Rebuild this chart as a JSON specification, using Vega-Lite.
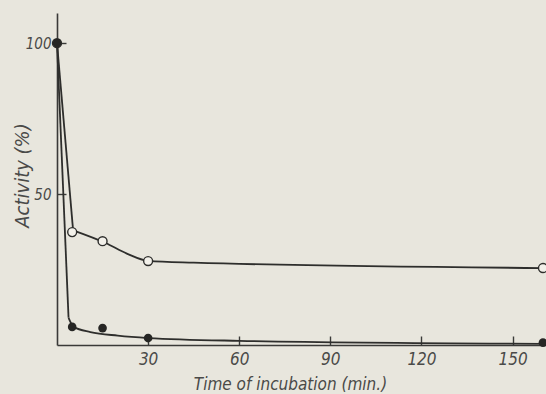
{
  "$schema": "https://vega.github.io/schema/vega-lite/v6.json",
  "width": 489,
  "height": 332,
  "autosize": {"type": "none"},
  "padding": {"left": 57, "top": 13, "right": 0, "bottom": 49},
  "background": "#e8e6dd",
  "config": {
    "view": {"stroke": null},
    "axis": {
      "labelFont": "Liberation Sans Narrow, DejaVu Sans Condensed",
      "labelFontStyle": "italic",
      "labelFontSize": 17,
      "labelColor": "#4a4a48",
      "titleFont": "Liberation Sans Narrow, DejaVu Sans Condensed",
      "titleFontStyle": "italic",
      "titleFontWeight": "normal",
      "titleFontSize": 20,
      "titleColor": "#4a4a48",
      "domainColor": "#3a3a38",
      "domainWidth": 1.6,
      "tickColor": "#3a3a38",
      "tickWidth": 1.4,
      "grid": false
    }
  },
  "datasets": {
    "measured": [
      {"series": "open", "time": 0, "activity": 100},
      {"series": "open", "time": 5, "activity": 37.4},
      {"series": "open", "time": 15, "activity": 34.4},
      {"series": "open", "time": 30, "activity": 27.8},
      {"series": "open", "time": 160, "activity": 25.5},
      {"series": "filled", "time": 0, "activity": 100},
      {"series": "filled", "time": 5, "activity": 6},
      {"series": "filled", "time": 15, "activity": 5.6},
      {"series": "filled", "time": 30, "activity": 2.3},
      {"series": "filled", "time": 160, "activity": 0.8}
    ],
    "drop": [
      {"series": "open", "time": 0, "activity": 100},
      {"series": "open", "time": 5.3, "activity": 38},
      {"series": "filled", "time": 0, "activity": 100},
      {"series": "filled", "time": 3.8, "activity": 9}
    ],
    "tail": [
      {"series": "open", "time": 5.3, "activity": 38},
      {"series": "open", "time": 16, "activity": 33.8},
      {"series": "open", "time": 23, "activity": 30.3},
      {"series": "open", "time": 30, "activity": 27.9},
      {"series": "open", "time": 45, "activity": 27.3},
      {"series": "open", "time": 160, "activity": 25.5},
      {"series": "filled", "time": 3.8, "activity": 9},
      {"series": "filled", "time": 5.5, "activity": 6},
      {"series": "filled", "time": 11, "activity": 4.3},
      {"series": "filled", "time": 20, "activity": 3.1},
      {"series": "filled", "time": 30, "activity": 2.3},
      {"series": "filled", "time": 60, "activity": 1.4},
      {"series": "filled", "time": 160, "activity": 0.4}
    ]
  },
  "encoding": {
    "x": {
      "field": "time",
      "type": "quantitative",
      "scale": {"domain": [0, 161], "nice": false},
      "axis": {
        "values": [30, 60, 90, 120, 150],
        "tickSize": -9,
        "labelPadding": 23,
        "labelBaseline": "middle",
        "title": "Time of incubation (min.)",
        "titleFontSize": 17,
        "titleX": 233,
        "titleY": 39,
        "titleBaseline": "middle"
      }
    },
    "y": {
      "field": "activity",
      "type": "quantitative",
      "scale": {"domain": [0, 110], "nice": false},
      "axis": {
        "values": [50, 100],
        "tickSize": -9,
        "labelPadding": 15,
        "labelFontSize": 15,
        "title": "Activity (%)",
        "titleAngle": -90,
        "titleX": -35,
        "titleY": 162,
        "titleAlign": "center",
        "titleBaseline": "middle"
      }
    }
  },
  "layer": [
    {
      "data": {"name": "drop"},
      "mark": {"type": "line", "interpolate": "linear", "color": "#2e2e2c", "strokeWidth": 1.8},
      "encoding": {"detail": {"field": "series"}}
    },
    {
      "data": {"name": "tail"},
      "mark": {"type": "line", "interpolate": "monotone", "color": "#2e2e2c", "strokeWidth": 1.8},
      "encoding": {"detail": {"field": "series"}}
    },
    {
      "data": {"name": "measured"},
      "transform": [{"filter": "datum.series === 'open'"}],
      "mark": {"type": "point", "shape": "circle", "filled": true, "fill": "#f3f1ea", "stroke": "#2e2e2c", "strokeWidth": 1.4, "size": 80, "opacity": 1}
    },
    {
      "data": {"name": "measured"},
      "transform": [{"filter": "datum.series === 'filled'"}],
      "mark": {"type": "point", "shape": "circle", "filled": true, "color": "#262624", "size": 75, "opacity": 1}
    }
  ]
}
